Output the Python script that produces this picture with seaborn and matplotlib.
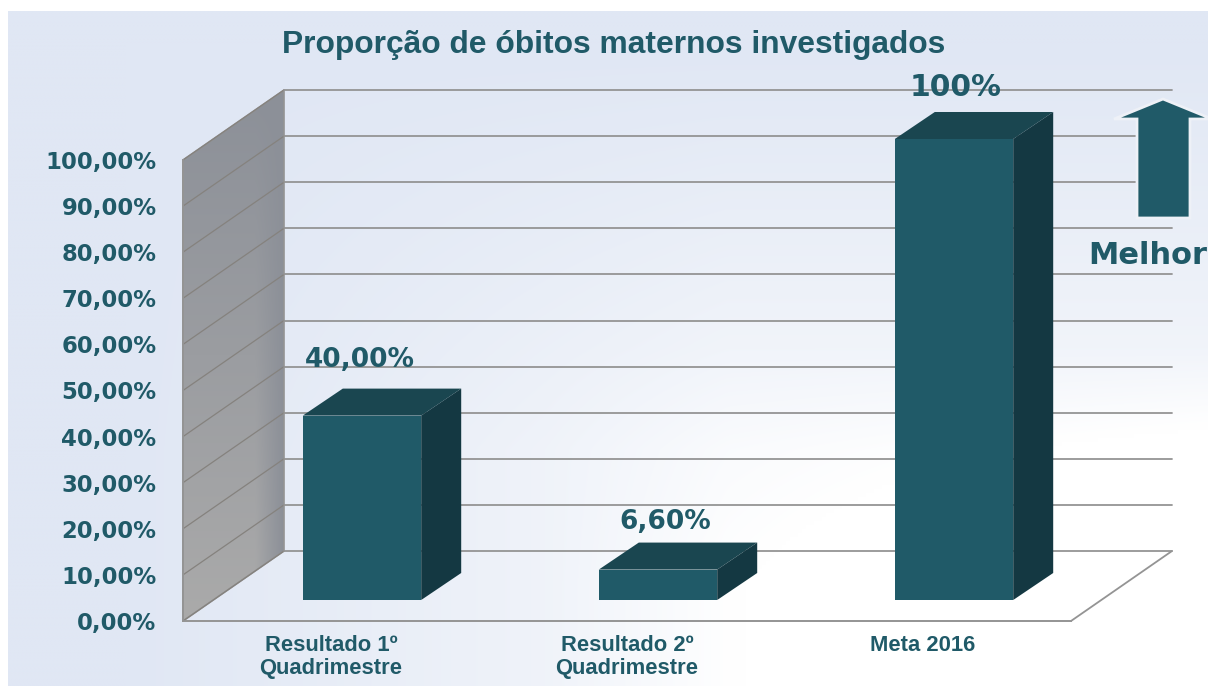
import matplotlib
matplotlib.use('Agg')
import matplotlib.pyplot as plt
import seaborn as sns
import pandas as pd
import numpy as np
from matplotlib.patches import Polygon

categories = ['Resultado 1º\nQuadrimestre', 'Resultado 2º\nQuadrimestre', 'Meta 2016']
values = [40.0, 6.6, 100.0]
value_labels = ['40,00%', '6,60%', '100%']
tick_values = [0, 10, 20, 30, 40, 50, 60, 70, 80, 90, 100]
tick_labels = ['0,00%', '10,00%', '20,00%', '30,00%', '40,00%', '50,00%',
               '60,00%', '70,00%', '80,00%', '90,00%', '100,00%']

W, H = 1208, 686
TEAL = '#205a68'
TOP = '#1a4650'
SIDE = '#143842'
GRID = '#949494'
WALL_LINE = '#85827e'

sns.set_theme(style='white')
plt.rcParams['font.family'] = ['Liberation Sans', 'DejaVu Sans']

fig = plt.figure(figsize=(W / 100, H / 100), dpi=100, facecolor='white')

# background with the pale lavender to white fade
bg = fig.add_axes([8 / W, 0, 1200 / W, 675 / H], zorder=0)
gx, gy = np.meshgrid(np.linspace(0, 1, 300), np.linspace(0, 1, 170))
fx = np.clip((gx - 0.1) / 0.5, 0, 1)
fy = np.clip((gy - 0.05) / 0.6, 0, 1)
right = np.clip((gx - 0.45) / 0.55, 0, 1) * np.clip((gy - 0.5) / 0.35, 0, 1)
t = np.clip(0.72 * fx * fy + 0.95 * right, 0, 1)[..., None]
lav = np.array([224, 231, 244]) / 255
bg.imshow(lav + (1 - lav) * t, aspect='auto', interpolation='bilinear')
bg.axis('off')

# front plane of the chart, the 3D parts are offset from it
ax = fig.add_axes([183 / W, (H - 621) / H, 888 / W, 461 / H], zorder=1)
ax.patch.set_visible(False)

df = pd.DataFrame({'categoria': categories, 'valor': values})
sns.barplot(data=df, x='categoria', y='valor', color=TEAL, saturation=1, width=0.4,
            linewidth=0, edgecolor='none', ax=ax, zorder=5)
ax.set_xlim(-0.5, 2.5)
ax.set_ylim(0, 100)

wall_dx, wall_dy = 101 / 296, 70 / 4.61
bar_dx, bar_dy = 31 / 296, 21 / 4.61
depth_dx, depth_dy = 40 / 296, 27 / 4.61

x0, x1 = -0.5, 2.5
wx = x0 + wall_dx

# side wall
wall = Polygon([(x0, 0), (wx, wall_dy), (wx, 100 + wall_dy), (x0, 100)], closed=True,
               facecolor='none', edgecolor=GRID, lw=1.2, zorder=3, clip_on=False)
ax.add_patch(wall)
ny, nx = 120, 60
vy = np.linspace(0, 1, ny)[:, None]
hx = np.clip((np.linspace(0, 1, nx)[None, :] - 0.72) / 0.28, 0, 1)
top_c = np.array([140, 144, 152]) / 255
low_c = np.array([170, 170, 170]) / 255
img = top_c + (low_c - top_c) * (vy * (1 - hx))[..., None]
im = ax.imshow(img, extent=(x0, wx, 0, 100 + wall_dy), aspect='auto', zorder=2, interpolation='bilinear')
im.set_clip_path(Polygon(wall.get_xy(), transform=ax.transData))
im.set_clip_box(fig.bbox)
ax.set_xlim(-0.5, 2.5)
ax.set_ylim(0, 100)

# grid lines on the walls
for v in tick_values:
    ax.plot([x0, wx], [v, v + wall_dy], color=WALL_LINE, lw=0.9, zorder=3, clip_on=False)
    ax.plot([wx, x1 + wall_dx], [v + wall_dy, v + wall_dy], color=GRID, lw=1.3, zorder=3, clip_on=False)
ax.plot([x1, x1 + wall_dx], [0, wall_dy], color=GRID, lw=1.3, zorder=3, clip_on=False)

# 3D faces of the bars
label_offsets = [(-2, 56), (7, 48), (1.5, 51)]
label_sizes = [19, 19, 21.5]
for bar, label, off, size in zip(ax.patches[:3], value_labels, label_offsets, label_sizes):
    bar.set_x(bar.get_x() + bar_dx)
    bar.set_y(bar_dy)
    bar.set_clip_on(False)
    bx, bw, bh = bar.get_x(), bar.get_width(), bar.get_height()
    ax.add_patch(Polygon([(bx, bar_dy + bh), (bx + bw, bar_dy + bh),
                          (bx + bw + depth_dx, bar_dy + bh + depth_dy), (bx + depth_dx, bar_dy + bh + depth_dy)],
                         closed=True, facecolor=TOP, edgecolor='none', zorder=5, clip_on=False))
    ax.add_patch(Polygon([(bx + bw, bar_dy), (bx + bw + depth_dx, bar_dy + depth_dy),
                          (bx + bw + depth_dx, bar_dy + bh + depth_dy), (bx + bw, bar_dy + bh)],
                         closed=True, facecolor=SIDE, edgecolor='none', zorder=5, clip_on=False))
    ax.annotate(label, (bx + bw / 2, bar_dy + bh), xytext=(off[0] * 0.72, off[1] * 0.72),
                textcoords='offset points', ha='center', va='center', color=TEAL,
                fontsize=size, fontweight='bold', family='DejaVu Sans', zorder=6, annotation_clip=False)

ax.set_xlabel('')
ax.set_ylabel('')
ax.set_yticks(tick_values)
ax.set_yticklabels(tick_labels, fontsize=16.4, fontweight='bold', color=TEAL, family='DejaVu Sans')
ax.set_xticks(range(len(categories)))
ax.set_xticklabels(categories, fontsize=15.8, fontweight='bold', color=TEAL, linespacing=1.15)
ax.tick_params(axis='y', length=0, pad=19)
ax.tick_params(axis='x', length=0, pad=10)
sns.despine(ax=ax, top=True, right=True)
for side in ['left', 'bottom']:
    ax.spines[side].set_color(GRID)
    ax.spines[side].set_linewidth(1.4)
    ax.spines[side].set_zorder(4)

fig.text(614 / W, 1 - 45 / H, 'Proporção de óbitos maternos investigados', ha='center', va='center',
         fontsize=22.9, fontweight='bold', color=TEAL)

# "Melhor" arrow on the right
over = fig.add_axes([0, 0, 1, 1], zorder=2)
over.set_xlim(0, W)
over.set_ylim(H, 0)
over.axis('off')
over.add_patch(Polygon([(1137, 218), (1137, 119), (1114, 119), (1163, 99), (1212, 119), (1190, 119), (1190, 218)],
                       closed=True, facecolor=TEAL, edgecolor='#eef1f7', lw=2))
over.text(1148, 256, 'Melhor', ha='center', va='center', fontsize=22, fontweight='bold',
          color=TEAL, family='DejaVu Sans')

fig.savefig('out.png', dpi=100)
